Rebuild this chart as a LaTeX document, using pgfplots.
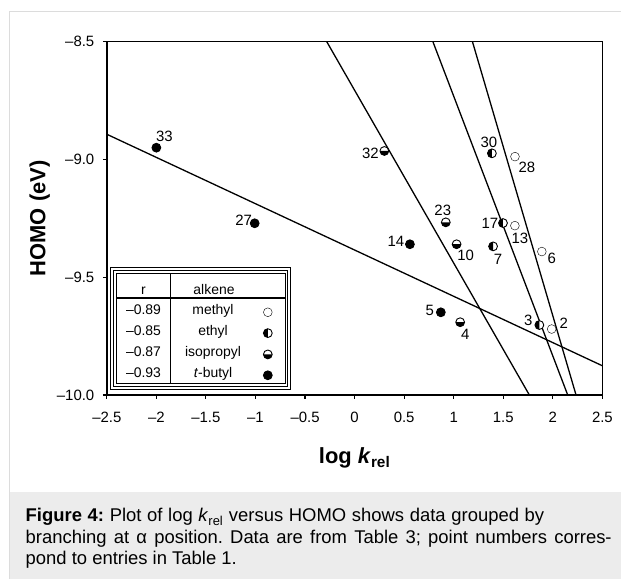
\documentclass[border=0pt]{standalone}
\usepackage{fontspec}
\setmainfont{Liberation Sans}
\usepackage{pgfplots}
\pgfplotsset{compat=1.18}
\frenchspacing

% half filled circles: left half black (ethyl), lower half black (isopropyl)
\pgfdeclareplotmark{halfleft}{%
  \begin{pgfscope}\pgfsetfillcolor{white}%
  \pgfpathcircle{\pgfpointorigin}{\pgfplotmarksize}\pgfusepath{fill}\end{pgfscope}%
  \pgfpathmoveto{\pgfqpoint{0pt}{\pgfplotmarksize}}%
  \pgfpatharc{90}{270}{\pgfplotmarksize}\pgfpathclose\pgfusepath{fill}%
  \pgfpathcircle{\pgfpointorigin}{\pgfplotmarksize}\pgfusepath{stroke}}
\pgfdeclareplotmark{halfbottom}{%
  \begin{pgfscope}\pgfsetfillcolor{white}%
  \pgfpathcircle{\pgfpointorigin}{\pgfplotmarksize}\pgfusepath{fill}\end{pgfscope}%
  \pgfpathmoveto{\pgfqpoint{-\pgfplotmarksize}{0pt}}%
  \pgfpatharc{180}{360}{\pgfplotmarksize}\pgfpathclose\pgfusepath{fill}%
  \pgfpathcircle{\pgfpointorigin}{\pgfplotmarksize}\pgfusepath{stroke}}

\pgfplotsset{
  mydots/.style={only marks, mark size=4.4bp, mark options={line width=0.9bp, draw=black, fill=black},
    legend image code/.code={\draw[##1] plot coordinates {(0cm,0cm)};}},
  fitline/.style={black, line width=1.3bp, no marks, forget plot},
}
\tikzset{lbl/.style={font=\fontsize{15}{15}\selectfont, inner sep=0pt}}
\definecolor{panel}{HTML}{ECECEC}
\definecolor{rim}{HTML}{DCDCDC}

\begin{document}
\begin{tikzpicture}[x=1bp,y=1bp]
\clip (0,0) rectangle (621,579);
\fill[panel] (9.3,0) rectangle (621,87.3);
\draw[rim, line width=1bp] (9.3,-5) -- (9.3,567) -- (630,567);

\begin{axis}[
  at={(106.8bp,184bp)}, anchor=south west,
  scale only axis, width=495.6bp, height=353.3bp,
  xmin=-2.5, xmax=2.5, ymin=-10, ymax=-8.5,
  xtick={-2.5,-2,-1.5,-1,-0.5,0,0.5,1,1.5,2,2.5},
  xticklabels={–2.5,–2,–1.5,–1,–0.5,0,0.5,1,1.5,2,2.5},
  ytick={-10,-9.5,-9,-8.5},
  yticklabels={–10.0,–9.5,–9.0,–8.5},
  tick pos=left, tick align=outside, major tick length=4bp,
  every tick/.style={black, line width=1.1bp},
  axis line style={line width=1.4bp},
  ticklabel style={font=\fontsize{15}{15}\selectfont},
  xticklabel style={yshift=-9.5bp},
  yticklabel style={xshift=-5bp},
  xlabel={log \textit{k}\textsubscript{rel}},
  ylabel={HOMO (eV)},
  label style={font=\fontsize{22}{22}\selectfont\bfseries},
  xlabel style={at={(axis description cs:0.5,-0.1925)}, anchor=base},
  ylabel style={at={(axis description cs:-0.1237,0.5)}, anchor=base},
  legend style={draw=none, fill=none, inner sep=0pt, outer sep=0pt,
    row sep=11.6bp, nodes={inner sep=0pt},
    at={(axis description cs:0.3259,0.2466)}, anchor=north},
]
% fitted lines
\addplot[fitline] coordinates {(-2.5,-8.893) (2.5,-9.876)};
\addplot[fitline] coordinates {(-0.281,-8.5) (1.763,-10)};
\addplot[fitline] coordinates {(0.790,-8.5) (2.150,-10)};
\addplot[fitline] coordinates {(1.189,-8.5) (2.234,-10)};

% methyl
\addplot[mydots, mark=*, mark options={fill=white}] coordinates {
  (1.618,-8.988) (1.617,-9.281) (1.889,-9.391) (1.988,-9.720)};
\addlegendentry{\hbox{}}
% ethyl
\addplot[mydots, mark=halfleft] coordinates {
  (1.385,-8.974) (1.397,-9.369) (1.497,-9.270) (1.864,-9.703)};
\addlegendentry{\hbox{}}
% isopropyl
\addplot[mydots, mark=halfbottom] coordinates {
  (0.300,-8.964) (0.920,-9.267) (1.029,-9.360) (1.065,-9.691)};
\addlegendentry{\hbox{}}
% t-butyl
\addplot[mydots, mark=*] coordinates {
  (-2.000,-8.950) (-1.008,-9.271) (0.558,-9.360) (0.870,-9.649)};
\addlegendentry{\hbox{}}

\node[lbl, xshift=8bp, yshift=11bp] at (axis cs:-2.000,-8.950) {33};
\node[lbl, xshift=-14bp, yshift=-2bp] at (axis cs:0.300,-8.964) {32};
\node[lbl, xshift=-3bp, yshift=11bp] at (axis cs:1.385,-8.974) {30};
\node[lbl, xshift=12bp, yshift=-11bp] at (axis cs:1.618,-8.988) {28};
\node[lbl, xshift=-11bp, yshift=3bp] at (axis cs:-1.008,-9.271) {27};
\node[lbl, xshift=-3bp, yshift=12bp] at (axis cs:0.920,-9.267) {23};
\node[lbl, xshift=-13bp] at (axis cs:1.497,-9.270) {17};
\node[lbl, xshift=5bp, yshift=-12.6bp] at (axis cs:1.617,-9.281) {13};
\node[lbl, xshift=-14bp, yshift=2.6bp] at (axis cs:0.558,-9.360) {14};
\node[lbl, xshift=9bp, yshift=-11bp] at (axis cs:1.029,-9.360) {10};
\node[lbl, xshift=5bp, yshift=-13bp] at (axis cs:1.397,-9.369) {7};
\node[lbl, xshift=10bp, yshift=-6.6bp] at (axis cs:1.889,-9.391) {6};
\node[lbl, xshift=-11bp, yshift=1.6bp] at (axis cs:0.870,-9.649) {5};
\node[lbl, xshift=5bp, yshift=-12bp] at (axis cs:1.065,-9.691) {4};
\node[lbl, xshift=-11bp, yshift=5bp] at (axis cs:1.864,-9.703) {3};
\node[lbl, xshift=12bp, yshift=6bp] at (axis cs:1.988,-9.720) {2};
\end{axis}

% legend table round the pgfplots legend marks
\begin{scope}[line width=0.8bp]
\draw (110.8,190) rectangle (290.5,311.3);
\draw (113.5,192.7) rectangle (287.8,308.6);
\draw (116.2,195.4) rectangle (285.1,305.9);
\draw[line width=1.8bp] (116.2,280.7) -- (285.1,280.7);
\draw (170.7,195.4) -- (170.7,305.9);
\end{scope}
\begin{scope}[every node/.style={font=\fontsize{14}{14}\selectfont, inner sep=0pt, anchor=base}]
\node at (143.5,284) {r};
\node at (214,284) {alkene};
\node at (143.5,264.7) {–0.89}; \node at (213,264.7) {methyl};
\node at (143.5,243.7) {–0.85}; \node at (213,243.7) {ethyl};
\node at (143.5,222.7) {–0.87}; \node at (213,222.7) {isopropyl};
\node at (143.5,201.7) {–0.93}; \node at (213,201.7) {\textit{t}-butyl};
\end{scope}

% caption
\begin{scope}[every node/.style={font=\fontsize{18.5}{18.5}\selectfont, inner sep=0pt, anchor=base west}]
\node at (25.5,57.3) {\makebox[518.5bp][s]{\textbf{Figure 4:} Plot of log \textit{k}\textsubscript{rel} versus HOMO shows data grouped by}};
\node at (25.5,35.7) {\makebox[586bp][s]{branching at α position. Data are from Table 3; point numbers corres-}};
\node at (25.5,14.7) {pond to entries in Table 1.};
\end{scope}
\end{tikzpicture}
\end{document}
